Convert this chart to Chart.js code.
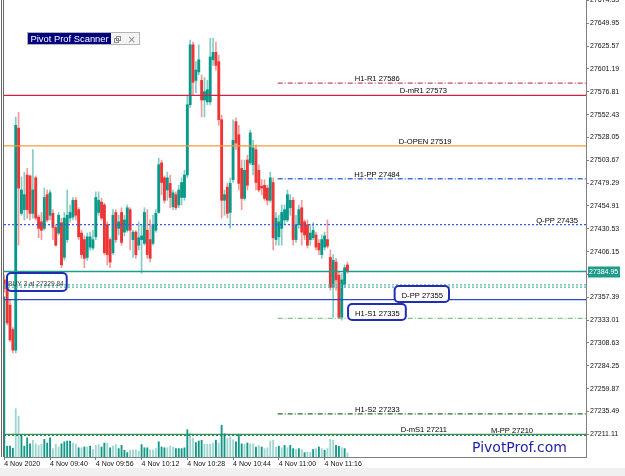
<!DOCTYPE html>
<html>
<head>
<meta charset="utf-8">
<script src="https://cdn.jsdelivr.net/npm/chart.js@4.4.0/dist/chart.umd.min.js"></script>
<style>
  html, body { margin: 0; padding: 0; background: #f0f0f0; }
  #wrap { width: 625px; height: 468px; background: #fff; }
  canvas { display: block; }
</style>
</head>
<body>
<div id="wrap"><canvas id="chart" width="625" height="468"></canvas></div>
<script>
// --- DATA (1 minute bars, 4 Nov 2020, from 09:24) ---
const xTickIdx = [0, 16, 32, 48, 64, 80, 96, 112];
const xTickLabels = ['4 Nov 2020', '4 Nov 09:40', '4 Nov 09:56', '4 Nov 10:12', '4 Nov 10:28', '4 Nov 10:44', '4 Nov 11:00', '4 Nov 11:16'];
const yTicks = [27211.11, 27235.49, 27259.87, 27284.25, 27308.63, 27333.01, 27357.39, 27381.77, 27406.15, 27430.53,
  27454.91, 27479.29, 27503.67, 27528.05, 27552.43, 27576.81, 27601.19, 27625.57, 27649.95, 27674.33];

const open = [27376,27368,27349,27323,27301,27538,27447,27451,27488,27487,
  27447,27485,27443,27438,27431,27467,27445,27447,27432,27426,
  27437,27400,27419,27442,27443,27461,27451,27426,27419,27400,
  27411,27410,27422,27448,27459,27456,27435,27419,27405,27448,
  27431,27448,27427,27429,27451,27419,27427,27413,27419,27415,
  27429,27419,27415,27429,27448,27501,27485,27472,27479,27454,
  27467,27456,27464,27464,27488,27563,27627,27589,27598,27589,
  27568,27566,27566,27611,27619,27609,27547,27461,27475,27448,
  27483,27545,27531,27495,27463,27504,27501,27499,27515,27493,
  27476,27477,27474,27461,27480,27419,27422,27431,27440,27440,
  27453,27461,27419,27435,27453,27438,27435,27419,27421,27424,
  27415,27403,27411,27419,27400,27368,27395,27381,27336,27371,
  27392];
const high = [27381,27372,27355,27325,27550,27555,27486,27491,27495,27488,
  27515,27487,27445,27448,27474,27472,27472,27451,27435,27448,
  27442,27448,27472,27456,27464,27464,27453,27429,27423,27426,
  27427,27429,27470,27470,27463,27458,27438,27421,27451,27451,
  27445,27453,27445,27456,27453,27429,27429,27438,27435,27453,
  27451,27440,27445,27451,27506,27504,27487,27491,27488,27472,
  27470,27477,27485,27493,27573,27632,27630,27609,27627,27595,
  27592,27589,27634,27634,27630,27616,27552,27472,27479,27485,
  27547,27549,27541,27504,27504,27509,27536,27525,27520,27499,
  27483,27483,27477,27491,27485,27448,27445,27456,27456,27472,
  27467,27464,27445,27456,27461,27440,27440,27435,27437,27427,
  27419,27424,27427,27440,27408,27403,27399,27384,27383,27392,
  27395];
const low = [27363,27328,27310,27298,27298,27413,27445,27440,27442,27440,
  27442,27440,27421,27419,27429,27438,27440,27419,27412,27424,
  27389,27397,27416,27438,27440,27440,27419,27399,27389,27397,
  27408,27408,27419,27445,27440,27403,27392,27389,27403,27416,
  27424,27413,27423,27427,27408,27400,27399,27408,27383,27413,
  27399,27395,27413,27427,27447,27467,27458,27461,27453,27451,
  27451,27453,27456,27461,27485,27560,27573,27576,27595,27550,
  27550,27563,27563,27605,27600,27541,27442,27445,27442,27431,
  27480,27515,27472,27451,27461,27472,27499,27488,27472,27470,
  27467,27461,27456,27459,27408,27413,27413,27413,27435,27438,
  27445,27413,27416,27431,27413,27419,27410,27413,27419,27408,
  27403,27399,27408,27410,27365,27336,27365,27335,27333,27368,
  27383];
const close = [27367,27330,27312,27301,27541,27474,27472,27467,27451,27447,
  27472,27442,27431,27429,27464,27440,27469,27432,27413,27445,
  27392,27442,27445,27448,27461,27445,27422,27403,27399,27422,
  27422,27419,27464,27461,27442,27405,27403,27395,27445,27419,
  27438,27416,27440,27453,27429,27427,27403,27421,27423,27448,
  27403,27399,27435,27447,27499,27480,27461,27485,27464,27469,
  27453,27472,27480,27488,27563,27627,27587,27600,27611,27568,
  27577,27579,27614,27619,27605,27547,27461,27467,27447,27479,
  27525,27522,27479,27463,27493,27477,27533,27517,27480,27472,
  27474,27463,27461,27485,27421,27442,27438,27448,27451,27467,
  27461,27419,27435,27451,27427,27424,27413,27426,27429,27411,
  27408,27419,27423,27412,27368,27397,27376,27336,27376,27389,
  27384.95];
const volume = [400,27,27,22,121,102,54,27,48,33,
  42,33,29,32,44,35,48,21,32,25,
  33,38,40,40,35,32,23,23,25,25,
  27,19,29,31,25,35,35,23,27,31,
  21,29,17,11,17,18,18,15,31,23,
  23,18,17,21,38,25,23,23,27,25,
  21,21,21,23,68,60,47,36,40,42,
  32,32,32,35,42,35,79,58,46,50,
  43,38,57,33,32,35,33,33,25,29,
  25,21,23,40,42,25,27,23,29,23,
  29,21,19,21,18,11,12,12,19,21,
  25,21,17,21,44,42,29,27,23,21,
  10];
// 1 = darker volume bar, 0 = lighter one
const volumeShade = [1,1,1,1,0,0,1,1,1,1,
  0,0,0,0,1,1,1,0,0,0,
  1,1,1,1,0,0,1,0,1,0,
  1,0,0,0,1,1,0,1,0,0,
  1,1,1,1,0,0,0,0,1,1,
  1,0,0,0,1,1,1,0,0,0,
  1,1,1,1,1,0,0,1,1,1,
  0,0,0,0,1,0,1,1,0,0,
  0,1,1,1,0,1,0,0,1,0,
  1,0,0,0,0,0,1,0,1,0,
  1,1,0,1,0,1,0,0,1,0,
  1,0,1,0,0,0,1,1,0,1,
  0];

const levelNames = ['H1-R1', 'D-mR1', 'D-OPEN', 'H1-PP', 'Q-PP', 'D-PP', 'H1-S1', 'H1-S2', 'D-mS1', 'M-PP'];
const levelValues = [27586, 27573, 27519, 27484, 27435, 27355, 27335, 27233, 27211, 27210];
const bidPrice = 27384.95;
const buyLevels = [27370.6, 27368.2];
const buyLabel = 'BUY 3 at 27329.84';

// --- STYLES ---
const UP = '#08998a', DOWN = '#ee3434';
const UP_WICK = 'rgba(8,153,138,0.5)', DOWN_WICK = 'rgba(238,52,52,0.5)';
const VOL_DARK = '#129886', VOL_LIGHT = '#9fd6cf';
const X_MIN = -0.1, X_MAX = 203.4, HOUR_START = 95.6;
const levelStyle = [
  { color: '#c9486a', dash: [5, 2, 1, 2], hour: true, end: 138.3 },
  { color: '#cc2444', dash: [], hour: false, end: 154.8 },
  { color: '#f39a3a', dash: [], hour: false, end: 156.4 },
  { color: '#3f72e4', dash: [5, 2, 1, 2], hour: true, end: 138.3 },
  { color: '#3a5ad6', dash: [2, 2], hour: false, end: 200.6 },
  { color: '#3447c4', dash: [], hour: false, end: 153.4, box: true },
  { color: '#86c386', dash: [5, 2, 1, 2], hour: true, end: 138.3, box: true },
  { color: '#256f2a', dash: [5, 2, 1, 2], hour: true, end: 138.3 },
  { color: '#2fa32f', dash: [], hour: false, end: 154.8 },
  { color: '#3a5ad6', dash: [2, 2], hour: false, end: 184.9 }
];
const FONT = '"Liberation Sans", Arial, sans-serif';
Chart.defaults.font.family = FONT;

const lineSet = (value, color, dash, from) => ({
  type: 'line',
  data: [{ x: from, y: value }, { x: X_MAX, y: value }],
  borderColor: color, borderWidth: 1.3, borderDash: dash,
  pointRadius: 0, order: 0
});

const datasets = [];
levelValues.forEach((v, i) => {
  const st = levelStyle[i];
  datasets.push(lineSet(v, st.color, st.dash, st.hour ? HOUR_START : X_MIN));
});
buyLevels.forEach(v => datasets.push(lineSet(v, '#5cb5a5', [2, 2], X_MIN)));
datasets.push(lineSet(bidPrice, '#1f9b8a', [], X_MIN));

datasets.push({
  label: 'bodies',
  data: open.map((o, i) => ({ x: i, y: [o, close[i]] })),
  backgroundColor: open.map((o, i) => close[i] >= o ? UP : DOWN),
  barThickness: 2.2, grouped: false, minBarLength: 1, order: 1
});
datasets.push({
  label: 'wicks',
  data: low.map((l, i) => ({ x: i, y: [l, high[i]] })),
  backgroundColor: open.map((o, i) => close[i] >= o ? UP_WICK : DOWN_WICK),
  barThickness: 1, grouped: false, order: 2
});
datasets.push({
  label: 'volume',
  yAxisID: 'yv',
  data: volume.map((v, i) => ({ x: i, y: v })),
  backgroundColor: volumeShade.map(s => s ? VOL_DARK : VOL_LIGHT),
  barThickness: 1.2, grouped: false, order: 3
});

const noPad = s => { s.paddingTop = 0; s.paddingBottom = 0; s.paddingLeft = 0; s.paddingRight = 0; };

const overlay = {
  id: 'overlay',
  afterDatasetsDraw(chart) {
    const { ctx, scales: { x, y }, chartArea } = chart;
    ctx.save();
    ctx.textBaseline = 'alphabetic';
    // level labels
    ctx.font = '7.6px ' + FONT;
    levelNames.forEach((name, i) => {
      const st = levelStyle[i];
      const py = Math.round(y.getPixelForValue(levelValues[i]));
      const right = x.getPixelForValue(st.end);
      const text = name + ' ' + levelValues[i];
      const w = ctx.measureText(text).width;
      if (st.box) {
        ctx.beginPath();
        ctx.roundRect(right - w - 7, py - 14, w + 13, 16, 4);
        ctx.fillStyle = '#fff';
        ctx.fill();
        ctx.lineWidth = 2;
        ctx.strokeStyle = '#1f2eb6';
        ctx.stroke();
      }
      ctx.fillStyle = '#000';
      ctx.textAlign = 'right';
      ctx.fillText(text, right, py - 2);
    });
    // buy label
    const by = Math.round(y.getPixelForValue(buyLevels[1]));
    const bx = x.getPixelForValue(1.3);
    ctx.font = '6.6px ' + FONT;
    const bw = ctx.measureText(buyLabel).width;
    ctx.beginPath();
    ctx.roundRect(bx - 1, by - 14, bw + 4, 18, 4);
    ctx.lineWidth = 2;
    ctx.strokeStyle = '#1f2eb6';
    ctx.stroke();
    ctx.fillStyle = '#3c3c3c';
    ctx.textAlign = 'left';
    ctx.fillText(buyLabel, bx, by - 1);
    // bid label on the price axis
    const py = y.getPixelForValue(bidPrice);
    ctx.fillStyle = '#1f9b8a';
    ctx.fillRect(chartArea.right + 2, py - 5, 32, 11);
    ctx.fillStyle = '#fff';
    ctx.font = '7px ' + FONT;
    ctx.textBaseline = 'middle';
    ctx.fillText(bidPrice.toFixed(2), chartArea.right + 3, py + 0.5);
    ctx.restore();
  },
  afterDraw(chart) {
    const { ctx, chartArea } = chart;
    ctx.save();
    // window frame at the left
    ctx.strokeStyle = '#6a6a6a';
    ctx.lineWidth = 1;
    [1.5, 3.5].forEach(px => {
      ctx.beginPath();
      ctx.moveTo(px, 0);
      ctx.lineTo(px, chartArea.bottom);
      ctx.stroke();
    });
    // scanner panel
    ctx.fillStyle = '#f4f4f4';
    ctx.fillRect(27, 32, 113, 13);
    ctx.fillStyle = '#000080';
    ctx.fillRect(28, 33, 83, 11);
    ctx.strokeStyle = '#b4b4b4';
    ctx.strokeRect(27.5, 32.5, 112, 12);
    ctx.fillStyle = '#fff';
    ctx.font = '9.4px ' + FONT;
    ctx.textAlign = 'left';
    ctx.textBaseline = 'alphabetic';
    ctx.fillText('Pivot Prof Scanner', 30.5, 42);
    ctx.strokeStyle = '#8a8a8a';
    ctx.strokeRect(116.5, 36.5, 4, 4);
    ctx.strokeRect(114.5, 38.5, 4, 4);
    ctx.fillStyle = '#8a8a8a';
    ctx.font = '10px "DejaVu Sans"';
    ctx.fillText('\u00d7', 127.5, 42.5);
    // brand
    ctx.fillStyle = '#1f1fa6';
    ctx.font = '14px "DejaVu Sans"';
    ctx.fillText('PivotProf.com', 472, 452);
    ctx.restore();
  }
};

new Chart(document.getElementById('chart'), {
  type: 'bar',
  data: { datasets },
  plugins: [overlay],
  options: {
    responsive: false,
    animation: false,
    devicePixelRatio: 1,
    events: [],
    layout: { padding: { left: 4, right: 0, top: 0, bottom: 0 } },
    plugins: { legend: { display: false }, tooltip: { enabled: false } },
    scales: {
      x: {
        type: 'linear', min: X_MIN, max: X_MAX, offset: false,
        grid: { offset: false, drawOnChartArea: false, drawTicks: true, tickLength: 3, color: '#808080' },
        border: { color: '#808080' },
        ticks: {
          autoSkip: false, maxRotation: 0, align: 'start', padding: 0,
          color: '#111', font: { size: 7 },
          callback: v => xTickLabels[xTickIdx.indexOf(v)]
        },
        afterBuildTicks: s => { s.ticks = xTickIdx.map(v => ({ value: v })); },
        afterFit: s => { s.height = 11; noPad(s); }
      },
      y: {
        type: 'linear', position: 'right', min: 27186.9, max: 27674.83,
        grid: { drawOnChartArea: false, drawTicks: true, tickLength: 3, color: '#808080' },
        border: { color: '#808080' },
        ticks: { autoSkip: false, padding: 1, color: '#111', font: { size: 7 }, callback: v => v.toFixed(2) },
        afterBuildTicks: s => { s.ticks = yTicks.map(v => ({ value: v })); },
        afterFit: s => { s.width = 39; noPad(s); }
      },
      yv: { display: false, min: 0, max: 1142 }
    }
  }
});
</script>
</body>
</html>
